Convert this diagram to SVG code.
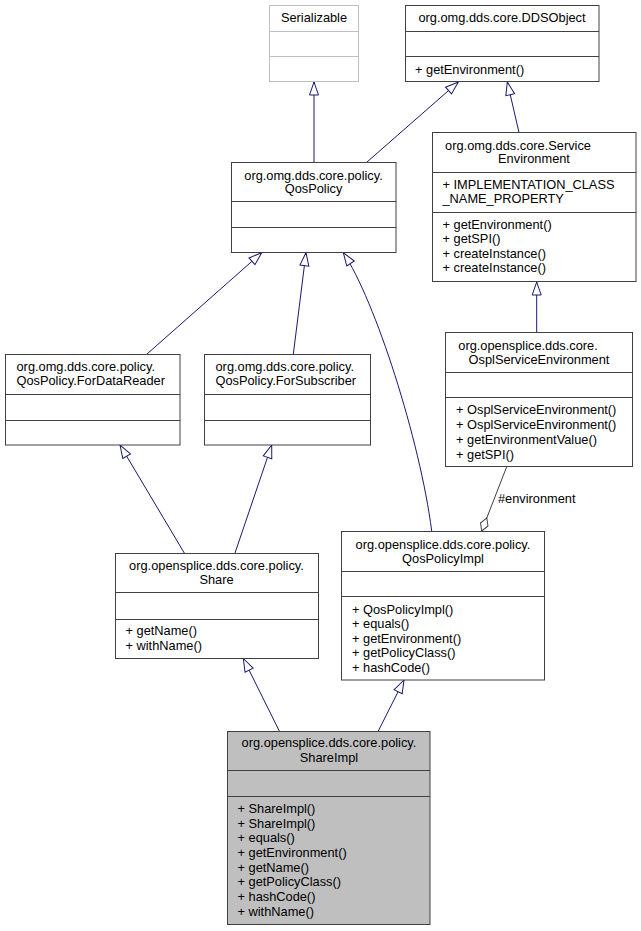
<svg xmlns="http://www.w3.org/2000/svg" width="641" height="931" viewBox="0 0 641 931">
<defs>
<style>
.box{fill:#ffffff;stroke:#404040;stroke-width:1}
.ext{fill:#ffffff;stroke:#bfbfbf;stroke-width:1}
.cur{fill:#bfbfbf;stroke:#404040;stroke-width:1}
.sep{stroke:#404040;stroke-width:1}
.sepx{stroke:#bfbfbf;stroke-width:1}
text{font-family:"Liberation Sans",Arial,sans-serif;font-size:12.8px;fill:#000000}
.c{text-anchor:middle}
.e{fill:none;stroke:#191970;stroke-width:1}
.a{fill:none;stroke:#404040;stroke-width:1}
</style>
<marker id="inh" viewBox="0 0 14 10" markerWidth="14" markerHeight="10" refX="13" refY="5" orient="auto" markerUnits="userSpaceOnUse" overflow="visible">
<path d="M13,5 L0,0.5 L0,9.5 Z" fill="#ffffff" stroke="#191970" stroke-width="1"/>
</marker>
<marker id="agg" viewBox="0 0 15 10" markerWidth="15" markerHeight="10" refX="14.5" refY="5" orient="auto" markerUnits="userSpaceOnUse" overflow="visible">
<path d="M0.5,5 L7.5,1 L14.5,5 L7.5,9 Z" fill="#ffffff" stroke="#404040" stroke-width="1"/>
</marker>
</defs>
<rect width="641" height="931" fill="#ffffff"/>

<g id="connectors">
<path class="e" d="M314,162 L314,82" marker-end="url(#inh)"/>
<path class="e" d="M366.7,162.3 L458.3,82" marker-end="url(#inh)"/>
<path class="e" d="M519,132.5 L507.3,82" marker-end="url(#inh)"/>
<path class="e" d="M536.7,332.5 L536.7,282" marker-end="url(#inh)"/>
<path class="e" d="M146.7,354.3 L261.7,252.7" marker-end="url(#inh)"/>
<path class="e" d="M293.3,354.3 L306,252.7" marker-end="url(#inh)"/>
<path class="e" d="M431.7,531 C420,440 375,300 343.3,252.7" marker-end="url(#inh)"/>
<path class="e" d="M184.3,553 L120,445" marker-end="url(#inh)"/>
<path class="e" d="M235,553 L271.7,445" marker-end="url(#inh)"/>
<path class="e" d="M279.3,731 L243.3,658.5" marker-end="url(#inh)"/>
<path class="e" d="M378.3,731 L404,680" marker-end="url(#inh)"/>
<path class="a" d="M506.7,466.7 L481.7,531" marker-end="url(#agg)"/>
<text x="498" y="503">#environment</text>
</g>

<g id="Serializable">
<rect class="ext" x="269.5" y="5.5" width="89" height="76"/>
<line class="sepx" x1="269.5" y1="31.5" x2="358.5" y2="31.5"/>
<line class="sepx" x1="269.5" y1="56.5" x2="358.5" y2="56.5"/>
<text class="c" x="314" y="22">Serializable</text>
</g>

<g id="DDSObject">
<rect class="box" x="405.5" y="5.5" width="193.5" height="76"/>
<line class="sep" x1="405.5" y1="31.5" x2="599" y2="31.5"/>
<line class="sep" x1="405.5" y1="56.5" x2="599" y2="56.5"/>
<text class="c" x="502" y="22">org.omg.dds.core.DDSObject</text>
<text x="415" y="74">+ getEnvironment()</text>
</g>

<g id="QosPolicy">
<rect class="box" x="231.5" y="162.5" width="164.5" height="90"/>
<line class="sep" x1="231.5" y1="201.5" x2="396" y2="201.5"/>
<line class="sep" x1="231.5" y1="227.5" x2="396" y2="227.5"/>
<text class="c" x="313.5" y="179.5">org.omg.dds.core.policy.</text>
<text class="c" x="313.5" y="193">QosPolicy</text>
</g>

<g id="ServiceEnvironment">
<rect class="box" x="432.5" y="132.5" width="203.5" height="149"/>
<line class="sep" x1="432.5" y1="172.5" x2="636" y2="172.5"/>
<line class="sep" x1="432.5" y1="212.5" x2="636" y2="212.5"/>
<text class="c" x="518" y="149.5">org.omg.dds.core.Service</text>
<text class="c" x="534" y="163">Environment</text>
<text x="442.5" y="188.5">+ IMPLEMENTATION_CLASS</text>
<text x="442.5" y="202.5">_NAME_PROPERTY</text>
<text x="442.5" y="228.5">+ getEnvironment()</text>
<text x="442.5" y="243">+ getSPI()</text>
<text x="442.5" y="257.5">+ createInstance()</text>
<text x="442.5" y="272">+ createInstance()</text>
</g>

<g id="ForDataReader">
<rect class="box" x="5.5" y="354.5" width="174.5" height="90.5"/>
<line class="sep" x1="5.5" y1="394.5" x2="180" y2="394.5"/>
<line class="sep" x1="5.5" y1="420.5" x2="180" y2="420.5"/>
<text x="16.5" y="370.5">org.omg.dds.core.policy.</text>
<text x="16.5" y="385">QosPolicy.ForDataReader</text>
</g>

<g id="ForSubscriber">
<rect class="box" x="204.5" y="354.5" width="166" height="90.5"/>
<line class="sep" x1="204.5" y1="394.5" x2="370.5" y2="394.5"/>
<line class="sep" x1="204.5" y1="420.5" x2="370.5" y2="420.5"/>
<text x="215.5" y="370.5">org.omg.dds.core.policy.</text>
<text x="215.5" y="385">QosPolicy.ForSubscriber</text>
</g>

<g id="OsplServiceEnvironment">
<rect class="box" x="445.5" y="332.5" width="187" height="134"/>
<line class="sep" x1="445.5" y1="372.5" x2="632.5" y2="372.5"/>
<line class="sep" x1="445.5" y1="397.5" x2="632.5" y2="397.5"/>
<text class="c" x="528" y="349.5">org.opensplice.dds.core.</text>
<text class="c" x="539" y="364">OsplServiceEnvironment</text>
<text x="456" y="414">+ OsplServiceEnvironment()</text>
<text x="456" y="429">+ OsplServiceEnvironment()</text>
<text x="456" y="443.5">+ getEnvironmentValue()</text>
<text x="456" y="458.5">+ getSPI()</text>
</g>

<g id="QosPolicyImpl">
<rect class="box" x="341.5" y="531.5" width="203" height="148.5"/>
<line class="sep" x1="341.5" y1="571.5" x2="544.5" y2="571.5"/>
<line class="sep" x1="341.5" y1="596.5" x2="544.5" y2="596.5"/>
<text class="c" x="443" y="548.5">org.opensplice.dds.core.policy.</text>
<text class="c" x="443" y="563">QosPolicyImpl</text>
<text x="352" y="613.5">+ QosPolicyImpl()</text>
<text x="352" y="628">+ equals()</text>
<text x="352" y="642.5">+ getEnvironment()</text>
<text x="352" y="657">+ getPolicyClass()</text>
<text x="352" y="671.5">+ hashCode()</text>
</g>

<g id="Share">
<rect class="box" x="115.5" y="553.5" width="203" height="105"/>
<line class="sep" x1="115.5" y1="592.5" x2="318.5" y2="592.5"/>
<line class="sep" x1="115.5" y1="619.5" x2="318.5" y2="619.5"/>
<text class="c" x="216.5" y="569.5">org.opensplice.dds.core.policy.</text>
<text class="c" x="216.5" y="584">Share</text>
<text x="125.5" y="635">+ getName()</text>
<text x="125.5" y="649.5">+ withName()</text>
</g>

<g id="ShareImpl">
<rect class="cur" x="227.5" y="731.5" width="202.5" height="193"/>
<line class="sep" x1="227.5" y1="770.5" x2="430" y2="770.5"/>
<line class="sep" x1="227.5" y1="796.5" x2="430" y2="796.5"/>
<text class="c" x="329" y="747">org.opensplice.dds.core.policy.</text>
<text class="c" x="329" y="762">ShareImpl</text>
<text x="237.5" y="813">+ ShareImpl()</text>
<text x="237.5" y="827.5">+ ShareImpl()</text>
<text x="237.5" y="842">+ equals()</text>
<text x="237.5" y="857">+ getEnvironment()</text>
<text x="237.5" y="871.5">+ getName()</text>
<text x="237.5" y="886">+ getPolicyClass()</text>
<text x="237.5" y="901">+ hashCode()</text>
<text x="237.5" y="915.5">+ withName()</text>
</g>
</svg>
